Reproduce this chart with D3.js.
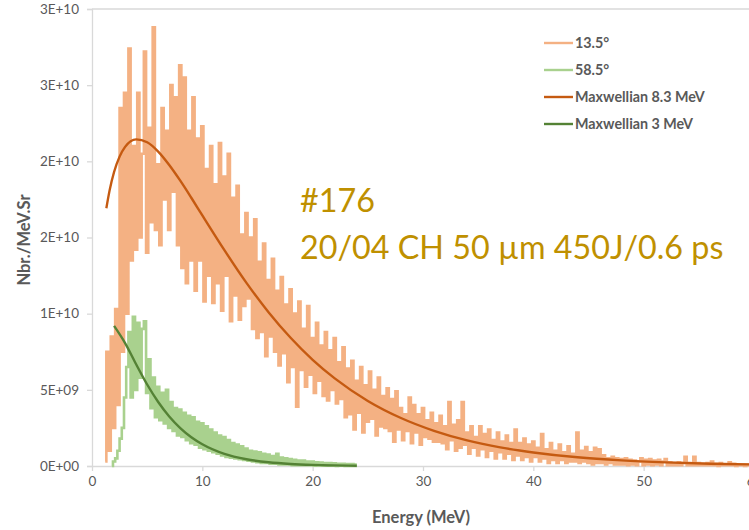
<!DOCTYPE html>
<html><head><meta charset="utf-8">
<script src="https://cdn.jsdelivr.net/npm/d3@7/dist/d3.min.js"></script>
<style>body{margin:0;background:#fff} svg{display:block}</style>
</head><body>
<svg id="c" width="749" height="530"></svg>
<script>
// values are in units of 1e9 (Nbr./MeV.Sr)
const UNIT = 1e9;
const binWidth = 0.2;           // MeV per spectrum bin
const orangeStartE = 1.2;       // first bin of 13.5°
const greenStartE = 1.8;        // first bin of 58.5°

const orange135 = [
  0.3, 7.5, 1.0, 8.5, 2.5, 10.3, 4.0, 23.5, 7.5, 24.5,
  10, 27.4, 13.5, 21.0, 14.2, 24.5, 15, 20.5, 27.2, 14,
  22.2, 16, 28.8, 15.5, 19.8, 14.5, 23.5, 17.5, 22.0, 15.5,
  25, 18, 24.2, 14.5, 26.3, 13, 25.5, 12, 22.0, 13.5,
  24.2, 11.5, 21.5, 13.5, 22.3, 10.8, 19.5, 12.5, 21, 10.7,
  18.5, 12, 21.2, 10.2, 19.0, 12.5, 20.5, 9.5, 17.6, 11.2,
  18.4, 9.6, 15.2, 10.5, 16.6, 11.0, 15.0, 9, 16.2, 8.4,
  13.4, 8.8, 14.6, 7.2, 12.2, 8.5, 13.6, 7.5, 11.5, 6.6,
  12.4, 7.4, 10.6, 5.5, 11.6, 6.5, 10.0, 3.9, 10.8, 6.3,
  9.0, 5.2, 10.5, 6.0, 8.4, 4.8, 9.4, 5.6, 7.9, 4.6,
  8.8, 4.3, 7.6, 5.0, 8.4, 4.1, 6.8, 4.4, 7.8, 3.2,
  6.4, 3.4, 6.9, 2.4, 5.6, 3.5, 6.5, 2.2, 5.3, 2.9,
  6.2, 3.1, 5.0, 2.0, 5.8, 2.6, 4.6, 2.5, 5.1, 2.3,
  4.4, 1.6, 4.9, 2.4, 3.8, 1.7, 3.4, 2.3, 4.5, 1.5,
  4.0, 2.2, 3.4, 1.4, 3.8, 1.9, 3.0, 1.8, 3.5, 1.6,
  2.8, 1.6, 3.3, 1.5, 2.6, 1.1, 4.2, 1.7, 2.7, 1.0,
  3.0, 1.2, 4.2, 1.4, 2.2, 0.8, 2.6, 1.2, 1.9, 0.7,
  2.6, 1.1, 2.1, 0.6, 2.4, 1.0, 1.7, 0.5, 2.2, 0.9,
  1.6, 0.5, 2.0, 0.8, 1.5, 0.4, 2.4, 0.7, 1.5, 0.4,
  1.8, 0.6, 1.4, 0.3, 1.6, 0.6, 1.2, 0.3, 2.1, 0.5,
  1.1, 0.2, 1.5, 0.4, 1.0, 0.2, 1.4, 0.4, 0.9, 0.2,
  1.3, 0.3, 0.8, 0.3, 2.2, 0.2, 1.0, 0.3, 1.25, 0.2,
  0.9, 0.1, 1.2, 0.2, 1.1, 0.2, 0.7, 0.1, 0.5, 0.2,
  0.6, 0.1, 0.5, 0.1, 0.45, 0.1, 0.5, 0.05, 0.4, 0.1,
  0.35, 0.05, 0.3, 0.5, 0.05, 0.4, 0.1, 0.45, 0.05, 0.35,
  0.1, 0.4, 0.05, 0.3, 0.45, 0.05, 0.25, 0.05, 0.2, 0.05,
  0.25, 0.05, 0.2, 0.6, 0.05, 0.2, 0.05, 0.6, 0.05, 0.2,
  0.05, 0.15, 0.05, 0.2, 0.05, 0.3, 0.05, 0.15, 0.0, 0.2,
  0.05, 0.1, 0.05, 0.25, 0.05, 0.15, 0.0, 0.1, 0.05, 0.1,
  0.0, 0.1, 0.05, 0.1, 0.05
];

const green585 = [
  0, 0.3, 0.5, 1.0, 1.8, 2.5, 4.5, 6.5, 8.8, 4.5,
  9.8, 5.0, 9.4, 5.8, 9.0, 9.5, 4.8, 7.0, 3.8, 5.8,
  3.2, 5.2, 3.0, 4.8, 2.8, 5.0, 2.5, 4.2, 2.3, 3.8,
  2.0, 3.7, 1.9, 3.5, 1.7, 3.3, 1.5, 3.2, 1.4, 2.9,
  1.2, 2.8, 1.1, 2.6, 1.0, 2.4, 0.9, 2.2, 0.8, 2.0,
  0.7, 1.9, 0.6, 1.7, 0.55, 1.5, 0.5, 1.4, 0.45, 1.3,
  0.4, 1.15, 0.35, 1.0, 0.3, 0.95, 0.25, 0.9, 0.2, 0.8,
  0.2, 0.75, 0.15, 0.65, 0.15, 0.8, 0.1, 0.55, 0.1, 0.5,
  0.1, 0.45, 0.05, 0.4, 0.05, 0.35, 0.05, 0.35, 0.05, 0.3,
  0.05, 0.3, 0.02, 0.25, 0.03, 0.22, 0.02, 0.2, 0.02, 0.2,
  0.02, 0.18, 0.01, 0.15, 0.02, 0.15, 0.01, 0.12, 0.01, 0.12,
  0.01, 0.1
];

const fitOrangeE = [1.3, 1.6, 2, 2.5, 3, 4, 5, 6, 7, 8, 9, 10, 12, 14, 16, 18, 20, 22, 25, 28, 31, 34, 37, 40, 44, 48, 52, 56, 60];
const fitOrangeV = [16.92, 18.11, 19.30, 20.31, 20.95, 21.44, 21.25, 20.64, 19.76, 18.73, 17.61, 16.45, 14.17, 12.02, 10.10, 8.42, 6.97, 5.75, 4.27, 3.15, 2.31, 1.68, 1.22, 0.89, 0.57, 0.37, 0.24, 0.15, 0.10];
const fitGreenE = [2, 3, 4, 5, 6, 7, 8, 9, 10, 12, 14, 16, 18, 20, 22, 24];
const fitGreenV = [9.20, 8.07, 6.68, 5.35, 4.20, 3.25, 2.49, 1.89, 1.43, 0.80, 0.446, 0.245, 0.133, 0.072, 0.039, 0.021];

const xTicks = [0, 10, 20, 30, 40, 50, 60];
const yTickValues = [0, 5e9, 1e10, 1.5e10, 2e10, 2.5e10, 3e10];
const yTickLabels = ["0E+00", "5E+09", "1E+10", "2E+10", "2E+10", "3E+10", "3E+10"];
const legendLabels = ["13.5°", "58.5°", "Maxwellian 8.3 MeV", "Maxwellian 3 MeV"];
const annotationLines = ["#176", "20/04 CH 50 µm 450J/0.6 ps"];

const colors = {orange: "#F4B183", green: "#A9D18E", orangeFit: "#C55A11", greenFit: "#548235"};
const legendColors = [colors.orange, colors.green, colors.orangeFit, colors.greenFit];

const svg = d3.select("#c");
const x = d3.scaleLinear().domain([0, 60]).range([92, 754]);
const y = d3.scaleLinear().domain([0, 3e10]).range([466, 9]);
const font = "Lato, 'Open Sans', sans-serif";
const axisGray = "#d9d9d9", textGray = "#595959";

// top gridline
svg.append("line").attr("x1", x(0)).attr("x2", 749)
  .attr("y1", y(3e10)).attr("y2", y(3e10)).attr("stroke", axisGray).attr("stroke-width", 1.3);

// y axis
const yAxis = svg.append("g").attr("transform", `translate(${x(0)},0)`)
  .call(d3.axisLeft(y).tickValues(yTickValues).tickSize(5).tickPadding(8)
    .tickFormat((d, i) => yTickLabels[i]));
// x axis
const xAxis = svg.append("g").attr("transform", `translate(0,${y(0)})`)
  .call(d3.axisBottom(x).tickValues(xTicks).tickSize(5).tickPadding(5)
    .tickFormat(d => d));
[yAxis, xAxis].forEach(g => {
  g.selectAll(".domain").attr("stroke", axisGray).attr("stroke-width", 1.3);
  g.selectAll(".tick line").attr("stroke", axisGray).attr("stroke-width", 1.3);
  g.selectAll("text").attr("fill", textGray).style("font-family", font).style("font-size", "13.5px");
});
xAxis.select(".domain").attr("d", `M${x(0)},0.5H749`);

// axis titles
svg.append("text").attr("transform", "translate(30,240) rotate(-90)")
  .attr("text-anchor", "middle").attr("fill", textGray)
  .style("font-family", font).style("font-weight", "bold").style("font-size", "16.5px")
  .text("Nbr./MeV.Sr");
svg.append("text").attr("x", 421).attr("y", 523)
  .attr("text-anchor", "middle").attr("fill", textGray)
  .style("font-family", font).style("font-weight", "bold").style("font-size", "16.5px")
  .text("Energy (MeV)");

const plot = svg.append("g");
const spectrumLine = (start) => d3.line().curve(d3.curveStep)
  .x((d, i) => x(start + i * binWidth))
  .y(d => y(d * UNIT));

plot.append("path").datum(orange135)
  .attr("d", spectrumLine(orangeStartE))
  .attr("fill", "none").attr("stroke", colors.orange).attr("stroke-width", 2.6)
  .attr("stroke-linejoin", "miter");
plot.append("path").datum(green585)
  .attr("d", spectrumLine(greenStartE))
  .attr("fill", "none").attr("stroke", colors.green).attr("stroke-width", 2.6)
  .attr("stroke-linejoin", "miter");

const fitLine = d3.line().curve(d3.curveMonotoneX)
  .x(d => x(d[0])).y(d => y(d[1] * UNIT));
plot.append("path").datum(fitOrangeE.map((e, i) => [e, fitOrangeV[i]]))
  .attr("d", fitLine).attr("fill", "none").attr("stroke", colors.orangeFit).attr("stroke-width", 2.4);
plot.append("path").datum(fitGreenE.map((e, i) => [e, fitGreenV[i]]))
  .attr("d", fitLine).attr("fill", "none").attr("stroke", colors.greenFit).attr("stroke-width", 2.4);

// legend
const leg = svg.append("g");
legendLabels.forEach((lab, i) => {
  const ly = 43 + i * 27;
  leg.append("line").attr("x1", 544).attr("x2", 573).attr("y1", ly).attr("y2", ly)
    .attr("stroke", legendColors[i]).attr("stroke-width", 2.4);
  leg.append("text").attr("x", 575).attr("y", ly).attr("dy", "0.35em")
    .attr("fill", textGray).style("font-family", font).style("font-weight", "bold").style("font-size", "14.3px")
    .text(lab);
});

// annotation
annotationLines.forEach((t, i) => {
  svg.append("text").attr("x", 300).attr("y", 212 + i * 47)
    .attr("fill", "#BF9000").style("font-family", font).style("font-size", "32.3px")
    .text(t);
});
</script>
</body></html>
